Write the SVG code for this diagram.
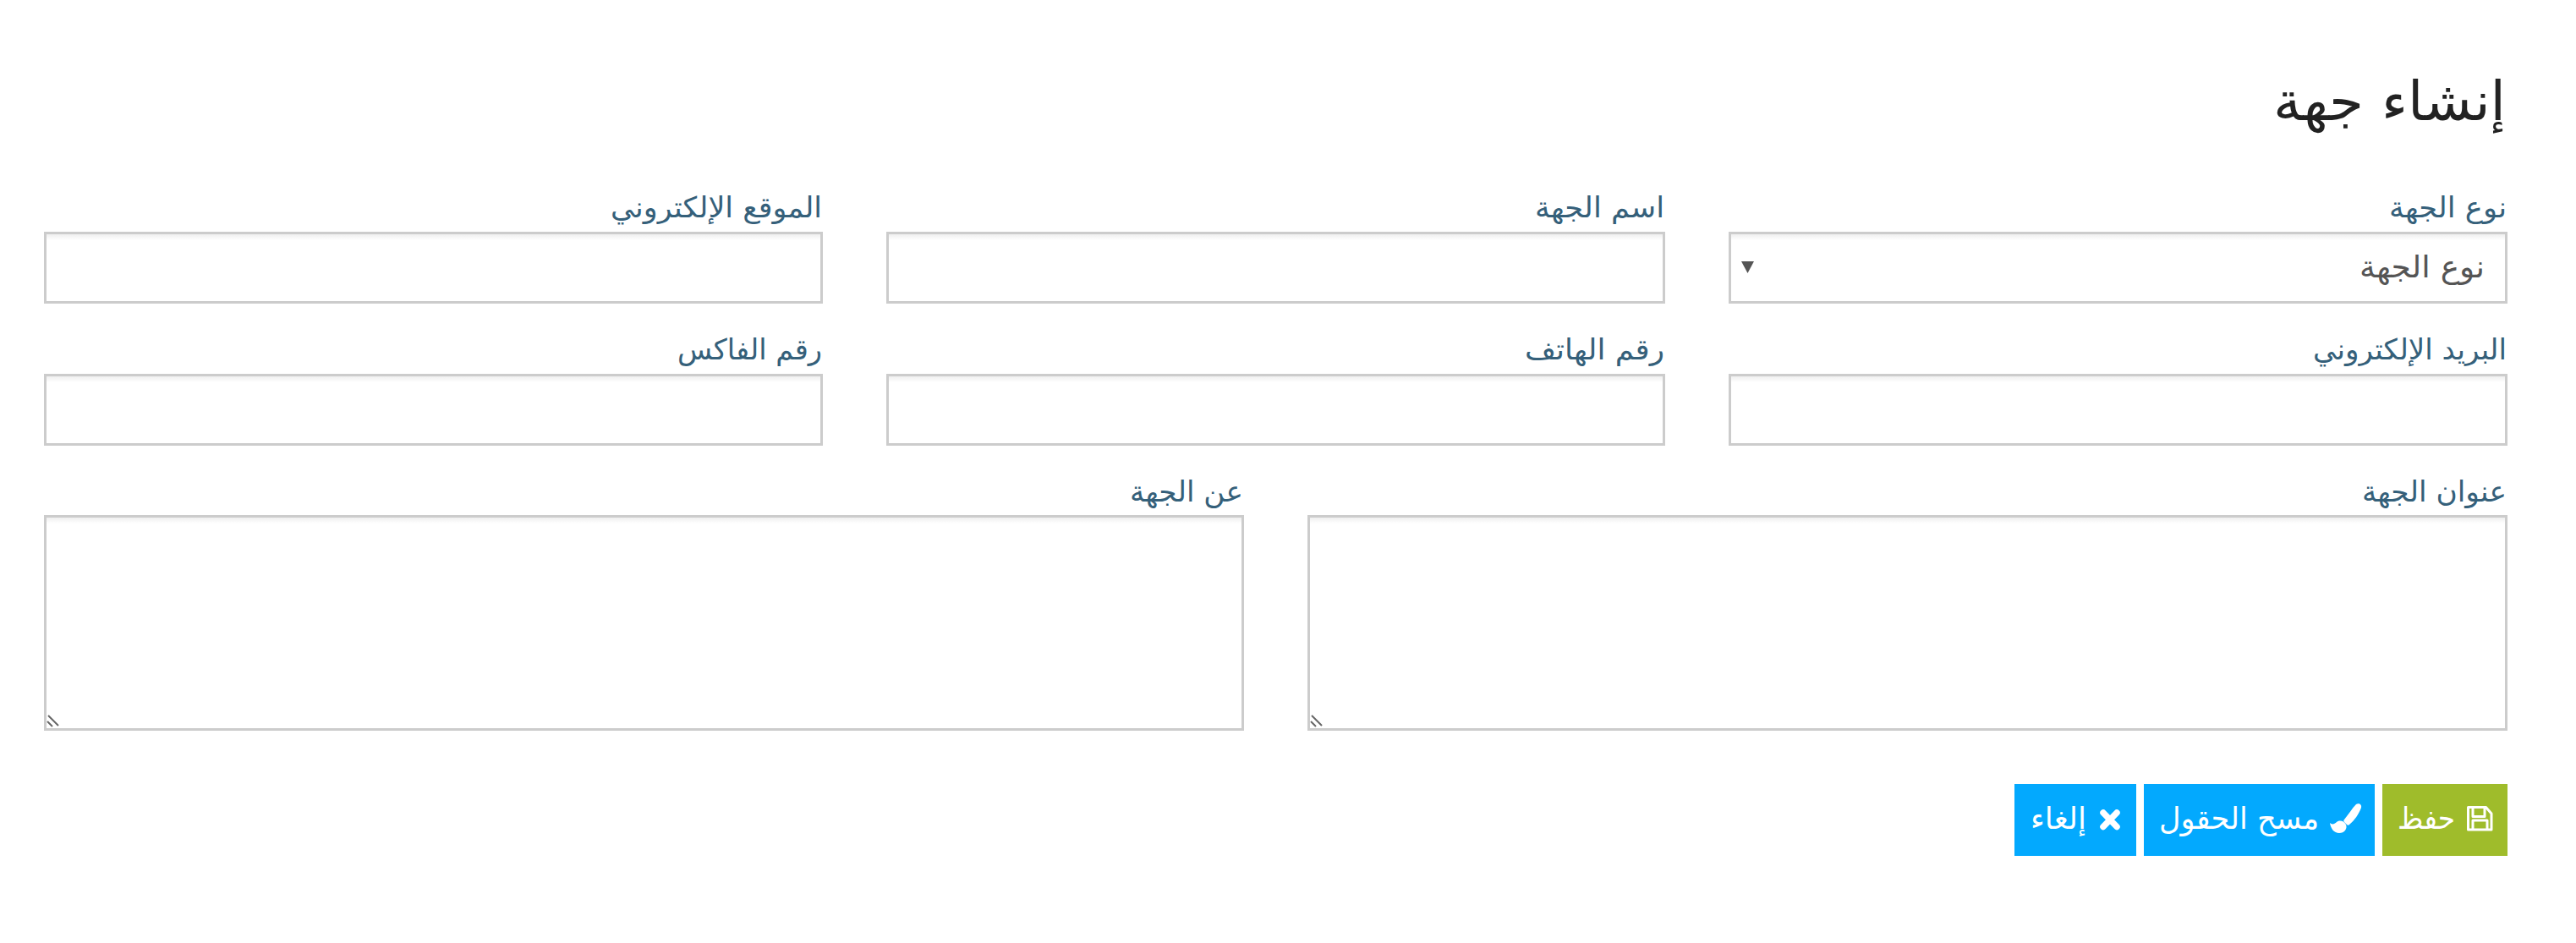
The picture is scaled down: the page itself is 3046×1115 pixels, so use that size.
<svg xmlns="http://www.w3.org/2000/svg" width="3046" height="1115" viewBox="0 0 3046 1115">
<defs><linearGradient id="inset" x1="0" y1="0" x2="0" y2="1"><stop offset="0" stop-color="#efefef"/><stop offset="1" stop-color="#fff"/></linearGradient></defs>
<style>
text{font-family:"DejaVu Sans",sans-serif;direction:rtl;text-anchor:start}
.l{font-size:34px;fill:#35607a}
.t{font-size:64px;fill:#222}
.b{font-size:36px;fill:#fff}
.s{font-size:36px;fill:#555}
.f{fill:#fff;stroke:#ccc;stroke-width:3}
.i{fill:url(#inset)}
.g{stroke:#666;stroke-width:2;fill:none}
</style>
<rect width="3046" height="1115" fill="#fff"/>
<g id="title"><text class="t" x="2963" y="142" textLength="275" lengthAdjust="spacingAndGlyphs">إنشاء جهة</text></g>
<g id="field-type"><text class="l" x="2964" y="257" textLength="139" lengthAdjust="spacingAndGlyphs">نوع الجهة</text><rect class="f" x="2045.500" y="275.500" width="918" height="82"/><rect class="i" x="2047" y="277" width="915" height="7"/><text class="s" x="2938" y="328" textLength="148" lengthAdjust="spacingAndGlyphs">نوع الجهة</text><path d="M2059 309h15l-7.500 14z" fill="#555"/></g>
<g id="field-name"><text class="l" x="1968" y="257" textLength="153" lengthAdjust="spacingAndGlyphs">اسم الجهة</text><rect class="f" x="1049.500" y="275.500" width="918" height="82"/><rect class="i" x="1051" y="277" width="915" height="7"/></g>
<g id="field-web"><text class="l" x="972" y="257" textLength="250" lengthAdjust="spacingAndGlyphs">الموقع الإلكتروني</text><rect class="f" x="53.500" y="275.500" width="918" height="82"/><rect class="i" x="55" y="277" width="915" height="7"/></g>
<g id="field-email"><text class="l" x="2964" y="425" textLength="229" lengthAdjust="spacingAndGlyphs">البريد الإلكتروني</text><rect class="f" x="2045.500" y="443.500" width="918" height="82"/><rect class="i" x="2047" y="445" width="915" height="7"/></g>
<g id="field-phone"><text class="l" x="1968" y="425" textLength="165" lengthAdjust="spacingAndGlyphs">رقم الهاتف</text><rect class="f" x="1049.500" y="443.500" width="918" height="82"/><rect class="i" x="1051" y="445" width="915" height="7"/></g>
<g id="field-fax"><text class="l" x="972" y="425" textLength="171" lengthAdjust="spacingAndGlyphs">رقم الفاكس</text><rect class="f" x="53.500" y="443.500" width="918" height="82"/><rect class="i" x="55" y="445" width="915" height="7"/></g>
<g id="field-address"><text class="l" x="2964" y="593" textLength="171" lengthAdjust="spacingAndGlyphs">عنوان الجهة</text><rect class="f" x="1547.500" y="610.500" width="1416" height="252"/><rect class="i" x="1549" y="612" width="1413" height="7"/><path class="g" d="M1551 846l12 12M1550 853l6 6"/></g>
<g id="field-about"><text class="l" x="1470" y="593" textLength="134" lengthAdjust="spacingAndGlyphs">عن الجهة</text><rect class="f" x="53.500" y="610.500" width="1416" height="252"/><rect class="i" x="55" y="612" width="1413" height="7"/><path class="g" d="M57 846l12 12M56 853l6 6"/></g>
<g id="btn-save"><rect x="2817" y="927" width="148" height="85" fill="#9fbc2b"/><text class="b" x="2903" y="980" textLength="68" lengthAdjust="spacingAndGlyphs">حفظ</text><path fill="none" stroke="#fff" stroke-width="3" stroke-linejoin="round" d="M2918.500 954.500h21l6.500 7.500v19h-27.500zM2924 954.500v11h14v-11M2924 981v-11h17v11"/></g>
<g id="btn-clear"><rect x="2535" y="927" width="273" height="85" fill="#03a9fe"/><text class="b" x="2742" y="980" textLength="189" lengthAdjust="spacingAndGlyphs">مسح الحقول</text><path fill="#fff" d="M2786 951c3-2 7 0 6 4-3 8-8 15-14 20-1 1-2 1-3 0l-3-3c-1-1-1-2 0-3 5-6 9-13 14-18zM2763 972c4-3 9-1 11 3 2 5-2 10-8 10-6 0-10-5-11-12 2 2 5 2 8-1z"/></g>
<g id="btn-cancel"><rect x="2382" y="927" width="144" height="85" fill="#03a9fe"/><text class="b" x="2467" y="980" textLength="66" lengthAdjust="spacingAndGlyphs">إلغاء</text><path fill="none" stroke="#fff" stroke-width="7.500" stroke-linecap="round" d="M2487 961l16 16.500M2503 961l-16 16.500"/></g>
</svg>
